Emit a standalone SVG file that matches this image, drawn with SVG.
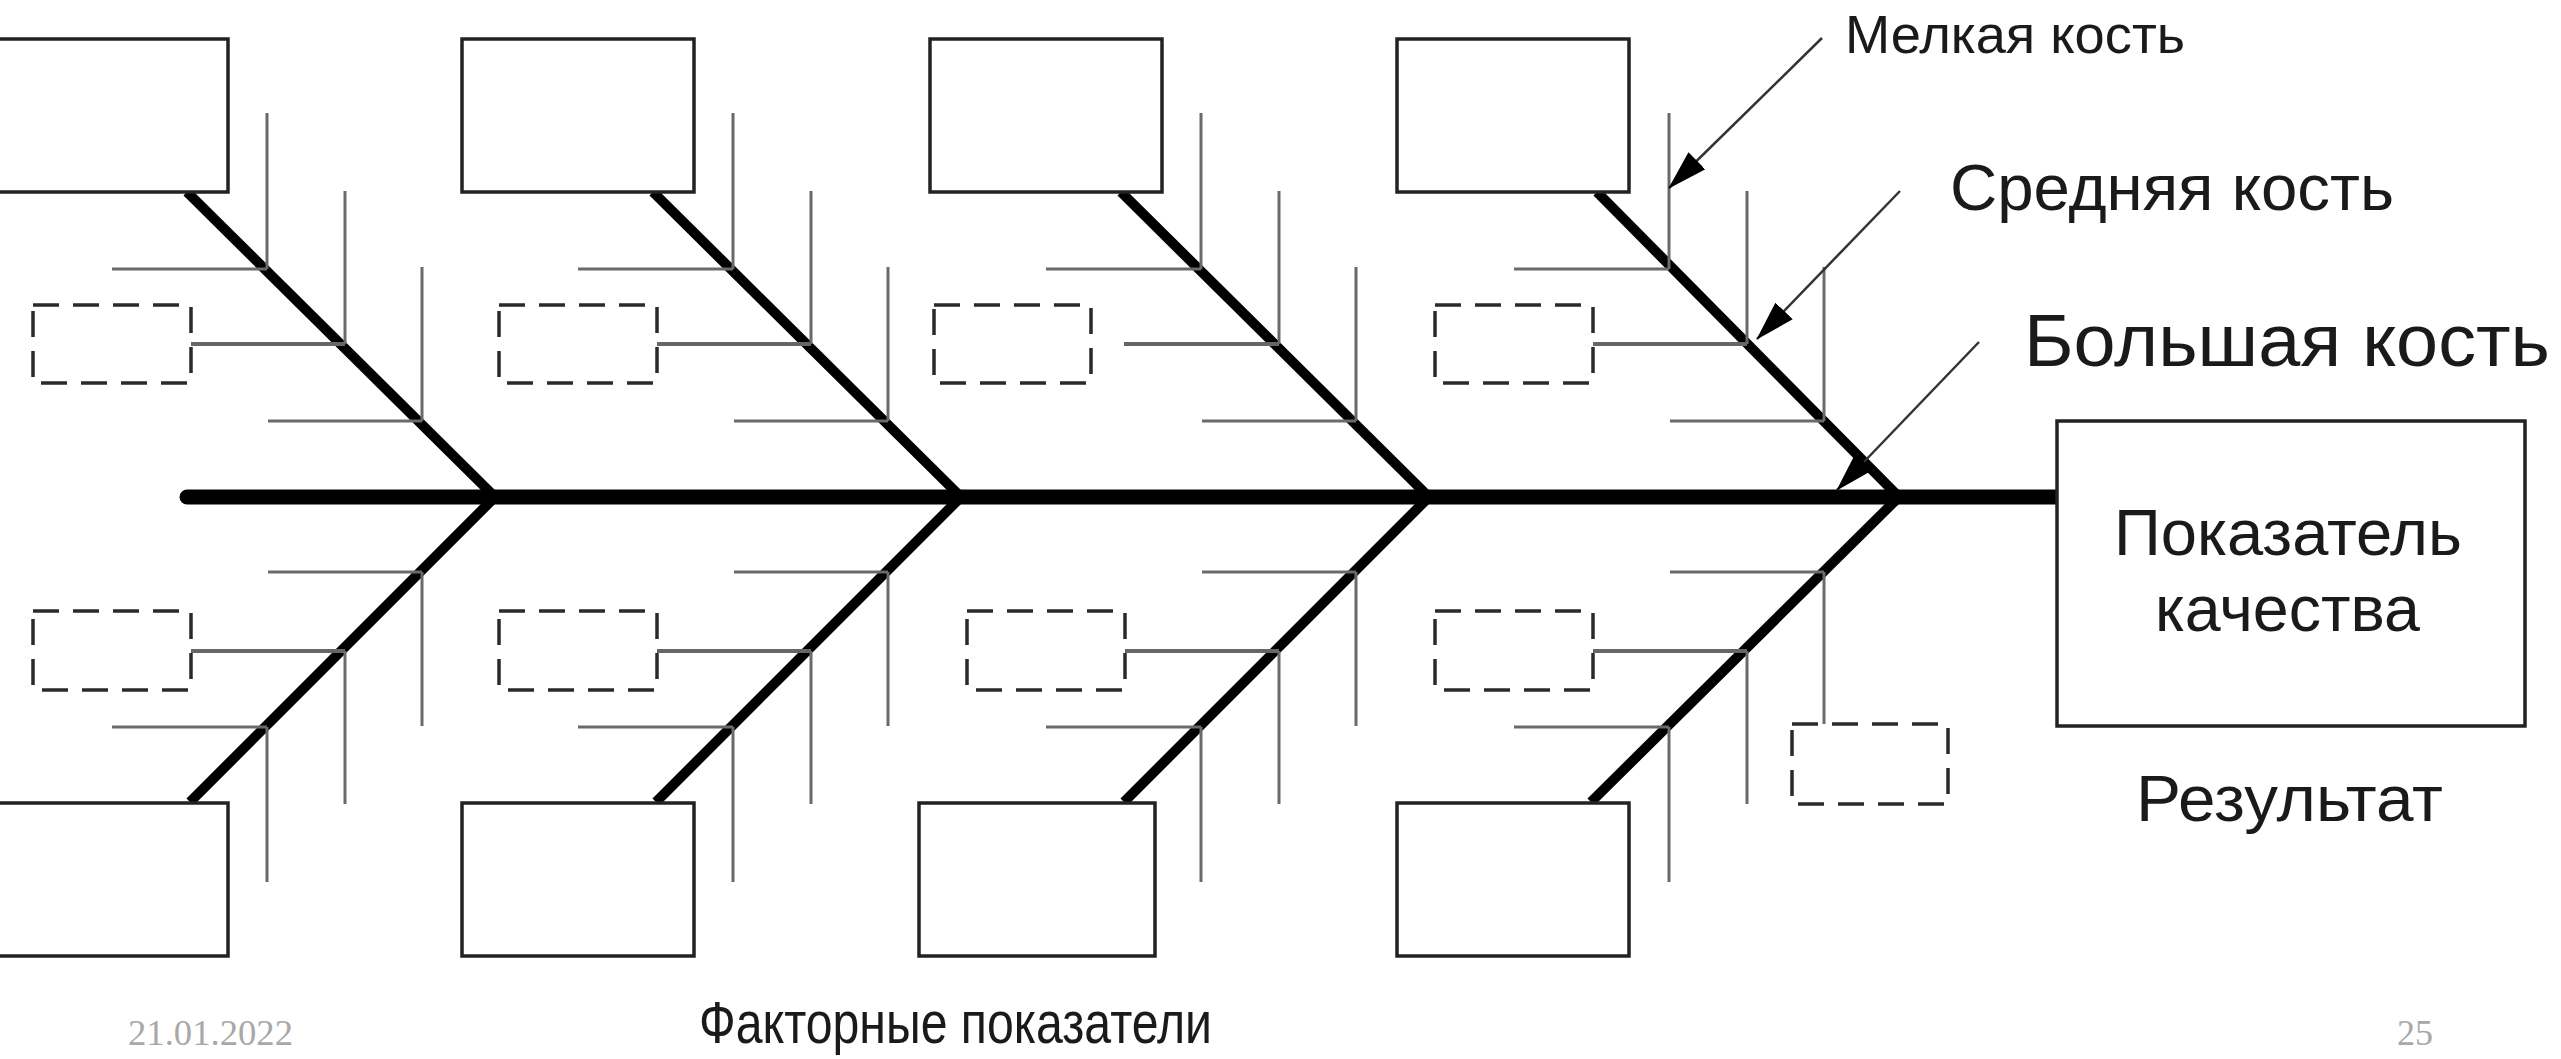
<svg xmlns="http://www.w3.org/2000/svg" width="2561" height="1059" viewBox="0 0 2561 1059">
<style>
.box{fill:#fff;stroke:#222;stroke-width:3.5}
.dash{fill:none;stroke:#2a2a2a;stroke-width:3.5;stroke-dasharray:26 14}
.spine{stroke:#000;stroke-width:15;stroke-linecap:round;fill:none}
.diag{stroke:#000;stroke-width:10;fill:none}
.sb{stroke:#6a6a6a;stroke-width:3;fill:none}
.sbh{stroke:#666;stroke-width:4;fill:none}
.arr{stroke:#333;stroke-width:2.5;fill:none}
.lbl{font-family:"Liberation Sans",Arial,sans-serif;fill:#1a1a1a}
.foot{font-family:"Liberation Serif","Times New Roman",serif;fill:#a8a8a8}
</style>
<defs>
<marker id="ah" markerUnits="userSpaceOnUse" markerWidth="40" markerHeight="24" refX="39" refY="12" orient="auto">
<path d="M0,0 L40,12 L0,24 z" fill="#000"/>
</marker>
</defs>
<rect width="2561" height="1059" fill="#fff"/>

<g id="connectors">
<line class="spine" x1="187" y1="497" x2="2057" y2="497"/>
<path class="diag" d="M187,192 L495,497 L190,802"/>
<path class="diag" d="M653,192 L961,497 L656,802"/>
<path class="diag" d="M1121,192 L1429,497 L1124,802"/>
<path class="diag" d="M1597,192 L1899,497 L1591,802"/>
<g>
<line class="sb" x1="267" y1="113" x2="267" y2="269"/>
<line class="sb" x1="345" y1="191" x2="345" y2="344"/>
<line class="sb" x1="422" y1="267" x2="422" y2="421"/>
<line class="sb" x1="112" y1="269" x2="267" y2="269"/>
<line class="sbh" x1="191" y1="344" x2="345" y2="344"/>
<line class="sb" x1="268" y1="421" x2="422" y2="421"/>
<line class="sb" x1="268" y1="572" x2="422" y2="572"/>
<line class="sb" x1="422" y1="572" x2="422" y2="726"/>
<line class="sbh" x1="191" y1="651" x2="345" y2="651"/>
<line class="sb" x1="345" y1="651" x2="345" y2="804"/>
<line class="sb" x1="112" y1="727" x2="267" y2="727"/>
<line class="sb" x1="267" y1="727" x2="267" y2="882"/>
</g>
<g>
<line class="sb" x1="733" y1="113" x2="733" y2="269"/>
<line class="sb" x1="811" y1="191" x2="811" y2="344"/>
<line class="sb" x1="888" y1="267" x2="888" y2="421"/>
<line class="sb" x1="578" y1="269" x2="733" y2="269"/>
<line class="sbh" x1="657" y1="344" x2="811" y2="344"/>
<line class="sb" x1="734" y1="421" x2="888" y2="421"/>
<line class="sb" x1="734" y1="572" x2="888" y2="572"/>
<line class="sb" x1="888" y1="572" x2="888" y2="726"/>
<line class="sbh" x1="657" y1="651" x2="811" y2="651"/>
<line class="sb" x1="811" y1="651" x2="811" y2="804"/>
<line class="sb" x1="578" y1="727" x2="733" y2="727"/>
<line class="sb" x1="733" y1="727" x2="733" y2="882"/>
</g>
<g>
<line class="sb" x1="1201" y1="113" x2="1201" y2="269"/>
<line class="sb" x1="1279" y1="191" x2="1279" y2="344"/>
<line class="sb" x1="1356" y1="267" x2="1356" y2="421"/>
<line class="sb" x1="1046" y1="269" x2="1201" y2="269"/>
<line class="sbh" x1="1124" y1="344" x2="1279" y2="344"/>
<line class="sb" x1="1202" y1="421" x2="1356" y2="421"/>
<line class="sb" x1="1202" y1="572" x2="1356" y2="572"/>
<line class="sb" x1="1356" y1="572" x2="1356" y2="726"/>
<line class="sbh" x1="1125" y1="651" x2="1279" y2="651"/>
<line class="sb" x1="1279" y1="651" x2="1279" y2="804"/>
<line class="sb" x1="1046" y1="727" x2="1201" y2="727"/>
<line class="sb" x1="1201" y1="727" x2="1201" y2="882"/>
</g>
<g>
<line class="sb" x1="1669" y1="113" x2="1669" y2="269"/>
<line class="sb" x1="1747" y1="191" x2="1747" y2="344"/>
<line class="sb" x1="1824" y1="267" x2="1824" y2="421"/>
<line class="sb" x1="1514" y1="269" x2="1669" y2="269"/>
<line class="sbh" x1="1593" y1="344" x2="1747" y2="344"/>
<line class="sb" x1="1670" y1="421" x2="1824" y2="421"/>
<line class="sb" x1="1670" y1="572" x2="1824" y2="572"/>
<line class="sb" x1="1824" y1="572" x2="1824" y2="724"/>
<line class="sbh" x1="1593" y1="651" x2="1747" y2="651"/>
<line class="sb" x1="1747" y1="651" x2="1747" y2="804"/>
<line class="sb" x1="1514" y1="727" x2="1669" y2="727"/>
<line class="sb" x1="1669" y1="727" x2="1669" y2="882"/>
</g>
<line class="arr" x1="1822" y1="38" x2="1669" y2="188" marker-end="url(#ah)"/>
<line class="arr" x1="1900" y1="191" x2="1757" y2="339" marker-end="url(#ah)"/>
<line class="arr" x1="1979" y1="342" x2="1837" y2="490" marker-end="url(#ah)"/>
</g>

<g id="top-box-1"><rect class="box" x="-4" y="39" width="232" height="153"/></g>
<g id="top-box-2"><rect class="box" x="462" y="39" width="232" height="153"/></g>
<g id="top-box-3"><rect class="box" x="930" y="39" width="232" height="153"/></g>
<g id="top-box-4"><rect class="box" x="1397" y="39" width="232" height="153"/></g>
<g id="bottom-box-1"><rect class="box" x="-4" y="803" width="232" height="153"/></g>
<g id="bottom-box-2"><rect class="box" x="462" y="803" width="232" height="153"/></g>
<g id="bottom-box-3"><rect class="box" x="919" y="803" width="236" height="153"/></g>
<g id="bottom-box-4"><rect class="box" x="1397" y="803" width="232" height="153"/></g>

<g id="dashed-top-1"><rect class="dash" x="33" y="305" width="158" height="78"/></g>
<g id="dashed-top-2"><rect class="dash" x="499" y="305" width="158" height="78"/></g>
<g id="dashed-top-3"><rect class="dash" x="934" y="305" width="157" height="78"/></g>
<g id="dashed-top-4"><rect class="dash" x="1435" y="305" width="158" height="78"/></g>
<g id="dashed-bottom-1"><rect class="dash" x="33" y="611" width="158" height="79"/></g>
<g id="dashed-bottom-2"><rect class="dash" x="499" y="611" width="158" height="79"/></g>
<g id="dashed-bottom-3"><rect class="dash" x="967" y="611" width="158" height="79"/></g>
<g id="dashed-bottom-4"><rect class="dash" x="1435" y="611" width="158" height="79"/></g>
<g id="dashed-extra"><rect class="dash" x="1792" y="724" width="156" height="80"/></g>

<g id="result">
<rect class="box" x="2057" y="421" width="468" height="305"/>
<text class="lbl" x="2114" y="555" font-size="65" textLength="348" lengthAdjust="spacingAndGlyphs">Показатель</text>
<text class="lbl" x="2155" y="631" font-size="65" textLength="265" lengthAdjust="spacingAndGlyphs">качества</text>
</g>
<g id="label-result"><text class="lbl" x="2136" y="821" font-size="65" textLength="307" lengthAdjust="spacingAndGlyphs">Результат</text></g>
<g id="label-small"><text class="lbl" x="1845" y="53" font-size="53" textLength="340" lengthAdjust="spacingAndGlyphs">Мелкая кость</text></g>
<g id="label-medium"><text class="lbl" x="1950" y="210" font-size="65" textLength="444" lengthAdjust="spacingAndGlyphs">Средняя кость</text></g>
<g id="label-big"><text class="lbl" x="2024" y="366" font-size="75" textLength="526" lengthAdjust="spacingAndGlyphs">Большая кость</text></g>
<g id="label-factors"><text class="lbl" x="699" y="1043" font-size="60" textLength="513" lengthAdjust="spacingAndGlyphs">Факторные показатели</text></g>
<g id="footer">
<text class="foot" x="128" y="1045" font-size="36" textLength="165" lengthAdjust="spacingAndGlyphs">21.01.2022</text>
<text class="foot" x="2397" y="1045" font-size="36" textLength="36" lengthAdjust="spacingAndGlyphs">25</text>
</g>
</svg>
